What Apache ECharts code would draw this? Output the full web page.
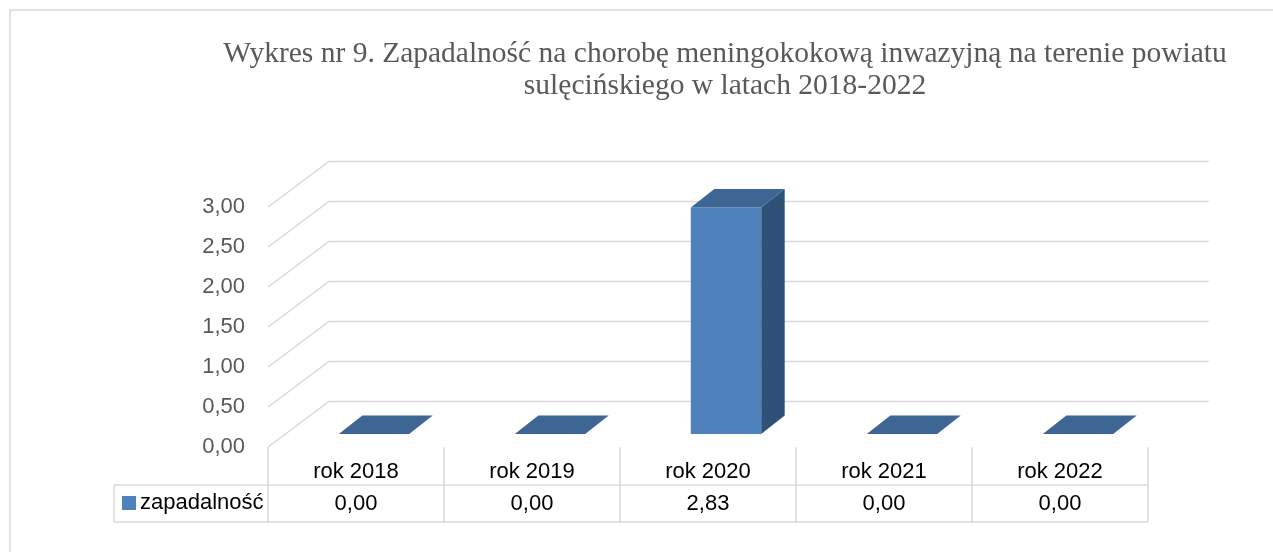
<!DOCTYPE html>
<html>
<head>
<meta charset="utf-8">
<script src="https://cdn.jsdelivr.net/npm/echarts@6/dist/echarts.min.js"></script>
<style>
html,body{margin:0;padding:0;background:#fff;}
#chart{width:1273px;height:552px;}
</style>
</head>
<body>
<div id="chart"></div>
<script>
// ---- data ----
const titleLines = [
  'Wykres nr 9. Zapadalność na chorobę meningokokową inwazyjną na terenie powiatu',
  'sulęcińskiego w latach 2018-2022'
];
const categories = ['rok 2018', 'rok 2019', 'rok 2020', 'rok 2021', 'rok 2022'];
const seriesName = 'zapadalność';
const values = [0.00, 0.00, 2.83, 0.00, 0.00];
const yTicks = [0, 0.5, 1, 1.5, 2, 2.5, 3];

// ---- styling ----
const FONT = 'Liberation Sans';
const GRID_COLOR = '#d9d9d9';
const FRONT = '#4f81bd', TOP = '#3d6694', SIDE = '#2f5178';
const WALL_DX = 61, WALL_DY = -45.5;      // depth of the 3D floor
const BAR_F = [18, -13], BAR_B = [41.5, -31.5]; // bar front/back plane offsets
const fmt = v => v.toFixed(2).replace('.', ',');

const chart = echarts.init(document.getElementById('chart'), null, {renderer: 'canvas'});

const option = {
  animation: false,
  backgroundColor: '#fff',
  textStyle: {fontFamily: FONT},
  title: {
    text: titleLines.join('\n'),
    left: 725, top: 38, padding: 0,
    textAlign: 'center',
    textStyle: {fontFamily: 'Liberation Serif', fontSize: 29.5, lineHeight: 32, fontWeight: 'normal', color: '#595959'}
  },
  legend: {
    data: [{name: seriesName, icon: 'rect'}],
    left: 122, top: 492, padding: 0,
    itemWidth: 14, itemHeight: 14, itemGap: 5,
    textStyle: {color: '#000', fontSize: 22, fontFamily: FONT, padding: [0, 0, 0, -1]}
  },
  grid: {left: 268, right: 125, top: 207, bottom: 105, containLabel: false},
  xAxis: {
    type: 'category',
    data: categories,
    boundaryGap: true,
    axisLine: {show: false},
    axisTick: {show: true, interval: 0, length: 75, lineStyle: {color: GRID_COLOR, width: 1.5}},
    axisLabel: {
      interval: 0, margin: 8.5, color: '#000',
      formatter: (val, idx) => '{h|' + val + '}\n{v|' + fmt(values[idx]) + '}',
      rich: {
        h: {fontSize: 22, lineHeight: 32, color: '#000', fontFamily: FONT},
        v: {fontSize: 22, lineHeight: 32, color: '#000', fontFamily: FONT}
      }
    },
    splitLine: {show: false}
  },
  yAxis: {
    type: 'value', min: 0, max: 3, interval: 0.5,
    axisLine: {show: false}, axisTick: {show: false}, splitLine: {show: false},
    axisLabel: {formatter: v => fmt(v), color: '#595959', fontSize: 22, margin: 23, fontFamily: FONT}
  },
  graphic: [
    {type: 'rect', shape: {x: 10, y: 10, width: 1400, height: 800}, style: {fill: 'none', stroke: GRID_COLOR, lineWidth: 1.5}, silent: true},
    {type: 'line', shape: {x1: 114, y1: 485, x2: 1148, y2: 485}, style: {stroke: GRID_COLOR, lineWidth: 1.5}},
    {type: 'line', shape: {x1: 114, y1: 522, x2: 1148, y2: 522}, style: {stroke: GRID_COLOR, lineWidth: 1.5}},
    {type: 'line', shape: {x1: 114, y1: 485, x2: 114, y2: 522}, style: {stroke: GRID_COLOR, lineWidth: 1.5}}
  ],
  series: [
    {
      type: 'custom',
      name: 'gridlines',
      silent: true,
      data: yTicks.map(t => [0, t]),
      renderItem: (params, api) => {
        const cs = params.coordSys;
        const y = api.coord([0, api.value(1)])[1];
        return {
          type: 'polyline',
          shape: {points: [[cs.x, y], [cs.x + WALL_DX, y + WALL_DY], [cs.x + cs.width + WALL_DX, y + WALL_DY]]},
          style: {stroke: GRID_COLOR, lineWidth: 1.5, fill: 'none'}
        };
      }
    },
    {
      type: 'custom',
      name: seriesName,
      itemStyle: {color: FRONT},
      data: values.map((v, i) => [i, v]),
      renderItem: (params, api) => {
        const i = api.value(0), v = api.value(1);
        const base = api.coord([i, 0]);
        const top = api.coord([i, v]);
        const w = api.size([1, 0])[0] * 0.4;
        const x0 = base[0] - w / 2;
        const ty = top[1], by = base[1];
        const topFace = {
          type: 'polygon',
          shape: {points: [
            [x0 + BAR_F[0], ty + BAR_F[1]], [x0 + w + BAR_F[0], ty + BAR_F[1]],
            [x0 + w + BAR_B[0], ty + BAR_B[1]], [x0 + BAR_B[0], ty + BAR_B[1]]
          ]},
          style: {fill: TOP}
        };
        if (by - ty < 0.5) {
          return {type: 'group', children: [topFace]};
        }
        return {
          type: 'group',
          children: [
            {type: 'polygon', shape: {points: [
              [x0 + w + BAR_F[0], ty + BAR_F[1]], [x0 + w + BAR_B[0], ty + BAR_B[1]],
              [x0 + w + BAR_B[0], by + BAR_B[1]], [x0 + w + BAR_F[0], by + BAR_F[1]]
            ]}, style: {fill: SIDE}},
            {type: 'rect', shape: {x: x0 + BAR_F[0], y: ty + BAR_F[1], width: w, height: by - ty}, style: {fill: FRONT}},
            topFace
          ]
        };
      }
    }
  ]
};
chart.setOption(option);
</script>
</body>
</html>
